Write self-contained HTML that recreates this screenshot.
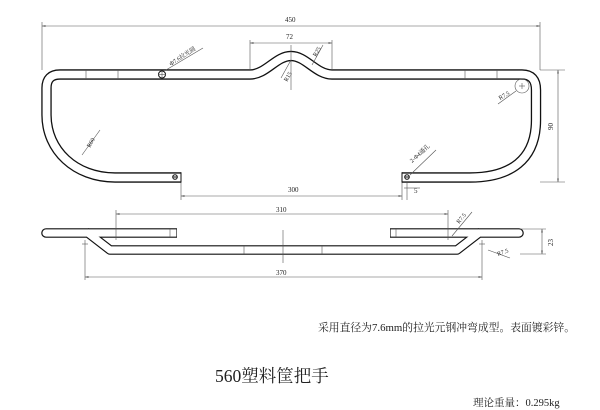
<!DOCTYPE html>
<html><head><meta charset="utf-8"><style>
html,body{margin:0;padding:0;background:#fff;width:600px;height:410px;overflow:hidden}
svg{display:block}
.t{font-family:"Liberation Serif","Noto Serif CJK SC",serif;fill:#222}
</style></head><body>
<svg width="600" height="410" viewBox="0 0 600 410" xmlns="http://www.w3.org/2000/svg">
<defs>
<marker id="a" viewBox="0 0 10 10" refX="10" refY="5" markerWidth="6" markerHeight="6" orient="auto-start-reverse"><path d="M0,3L10,5L0,7z" fill="#333"/></marker>
</defs>
<g fill="none" stroke-linejoin="round">
<path d="M181,177.5 L115,177.5 C75,177.5 46.5,150 46.5,115 L46.5,88 Q46.5,74.5 60,74.5 L250,74.5 C266,74.5 276,56 291,56 C306,56 316,74.5 332,74.5 L522,74.5 Q536,74.5 536,90 L536,120 C536,160 510,177.5 470,177.5 L402,177.5" stroke="#111" stroke-width="10.4"/>
<path d="M181,177.5 L115,177.5 C75,177.5 46.5,150 46.5,115 L46.5,88 Q46.5,74.5 60,74.5 L250,74.5 C266,74.5 276,56 291,56 C306,56 316,74.5 332,74.5 L522,74.5 Q536,74.5 536,90 L536,120 C536,160 510,177.5 470,177.5 L402,177.5" stroke="#fff" stroke-width="7.8"/>
</g>
<g stroke="#111" stroke-width="1" fill="none">
<line x1="181" y1="172.3" x2="181" y2="182.7"/><line x1="402" y1="172.3" x2="402" y2="182.7"/>
<circle cx="175" cy="177" r="2.3"/><line x1="172.7" y1="177" x2="177.3" y2="177"/>
<circle cx="407" cy="177" r="2.3"/><line x1="404.7" y1="177" x2="409.3" y2="177"/>
<circle cx="162" cy="74.5" r="3.5"/>
</g>
<g stroke="#555" stroke-width="0.6" fill="none">
<line x1="86" y1="70" x2="86" y2="79"/><line x1="118" y1="70" x2="118" y2="79"/>
<line x1="465" y1="70" x2="465" y2="79"/><line x1="497" y1="70" x2="497" y2="79"/>
<line x1="158" y1="74.5" x2="166" y2="74.5"/><line x1="162" y1="70.5" x2="162" y2="78.5"/>
<line x1="42" y1="22" x2="42" y2="70"/><line x1="540" y1="22" x2="540" y2="70"/>
<line x1="42" y1="26" x2="540" y2="26" marker-start="url(#a)" marker-end="url(#a)"/>
<line x1="250" y1="40" x2="250" y2="70"/><line x1="332" y1="40" x2="332" y2="70"/>
<line x1="250" y1="43" x2="332" y2="43" marker-start="url(#a)" marker-end="url(#a)"/>
<line x1="291" y1="45" x2="291" y2="90"/>
<line x1="281" y1="78" x2="291" y2="60"/><line x1="312" y1="65" x2="323" y2="45"/>
<line x1="166" y1="70" x2="203" y2="48"/>
<line x1="82" y1="155" x2="100" y2="130"/>
<line x1="181" y1="183" x2="181" y2="200"/><line x1="402" y1="183" x2="402" y2="200"/>
<line x1="181" y1="196" x2="402" y2="196" marker-start="url(#a)" marker-end="url(#a)"/>
<line x1="407" y1="183" x2="407" y2="200"/><line x1="404" y1="188" x2="420" y2="188"/>
<line x1="540" y1="70" x2="565" y2="70"/><line x1="540" y1="182" x2="565" y2="182"/>
<line x1="558" y1="70" x2="558" y2="182" marker-start="url(#a)" marker-end="url(#a)"/>
<circle cx="522" cy="86" r="7"/><line x1="519" y1="86" x2="525" y2="86"/><line x1="522" y1="83" x2="522" y2="89"/>
<line x1="498" y1="104" x2="516" y2="91"/>
<line x1="410" y1="175" x2="436" y2="150"/>
</g>
<g class="t" font-size="7">
<text x="285" y="22">450</text>
<text x="286" y="39">72</text>
<text x="171" y="66" font-size="6" transform="rotate(-33 171 66)">Φ7.6拉光圆</text>
<text x="316" y="57" font-size="6" transform="rotate(-60 316 57)">R25</text>
<text x="287" y="82" font-size="6" transform="rotate(-60 287 82)">R15</text>
<text x="90" y="148" font-size="6" transform="rotate(-60 90 148)">R60</text>
<text x="288" y="192">300</text>
<text x="414" y="193">5</text>
<text x="500" y="100" font-size="6" transform="rotate(-30 500 100)">R7.5</text>
<text x="412" y="163" font-size="6" transform="rotate(-42 412 163)">2-Φ4通孔</text>
<text x="553" y="130" transform="rotate(-90 553 130)">90</text>
</g>
<g fill="none" stroke-linejoin="round">
<path d="M46,233 L88,233 L110,250 L457,250 L479,233 L519,233" stroke="#111" stroke-width="9.6" stroke-linecap="round"/>
<path d="M88,233 L177,233 M390,233 L479,233" stroke="#111" stroke-width="9.6"/>
<path d="M46,233 L88,233 L110,250 L457,250 L479,233 L519,233" stroke="#fff" stroke-width="7.2" stroke-linecap="round"/>
<path d="M88,233 L176.4,233 M390.6,233 L479,233" stroke="#fff" stroke-width="7.2"/>
</g>
<g stroke="#555" stroke-width="0.6" fill="none">
<line x1="244" y1="246" x2="244" y2="254"/><line x1="322" y1="246" x2="322" y2="254"/>
<line x1="283" y1="230" x2="283" y2="263"/>
<line x1="116" y1="210" x2="116" y2="240"/><line x1="448" y1="210" x2="448" y2="240"/>
<line x1="116" y1="214" x2="448" y2="214" marker-start="url(#a)" marker-end="url(#a)"/>
<line x1="85" y1="240" x2="85" y2="280"/><line x1="482" y1="240" x2="482" y2="280"/>
<line x1="82" y1="244" x2="88" y2="244"/><line x1="479" y1="244" x2="485" y2="244"/>
<line x1="85" y1="277" x2="482" y2="277" marker-start="url(#a)" marker-end="url(#a)"/>
<line x1="520" y1="229" x2="546" y2="229"/><line x1="520" y1="254" x2="546" y2="254"/>
<line x1="542" y1="229" x2="542" y2="254" marker-start="url(#a)" marker-end="url(#a)"/>
<line x1="452" y1="236" x2="472" y2="212"/>
<line x1="488" y1="250" x2="510" y2="258"/>
<line x1="170" y1="229" x2="170" y2="237"/><line x1="396" y1="229" x2="396" y2="237"/>
</g>
<g class="t" font-size="7">
<text x="276" y="212">310</text>
<text x="276" y="275">370</text>
<text x="459" y="224" font-size="6" transform="rotate(-50 459 224)">R7.5</text>
<text x="498" y="256" font-size="6" transform="rotate(-20 498 256)">R7.5</text>
<text x="553" y="246" transform="rotate(-90 553 246)">23</text>
</g>
<text class="t" x="318" y="331" font-size="10.8">采用直径为7.6mm的拉光元钢冲弯成型。表面镀彩锌。</text>
<text class="t" x="215" y="382" font-size="17.5">560塑料筐把手</text>
<text class="t" x="473" y="406" font-size="10.5">理论重量：0.295kg</text>
</svg>
</body></html>
